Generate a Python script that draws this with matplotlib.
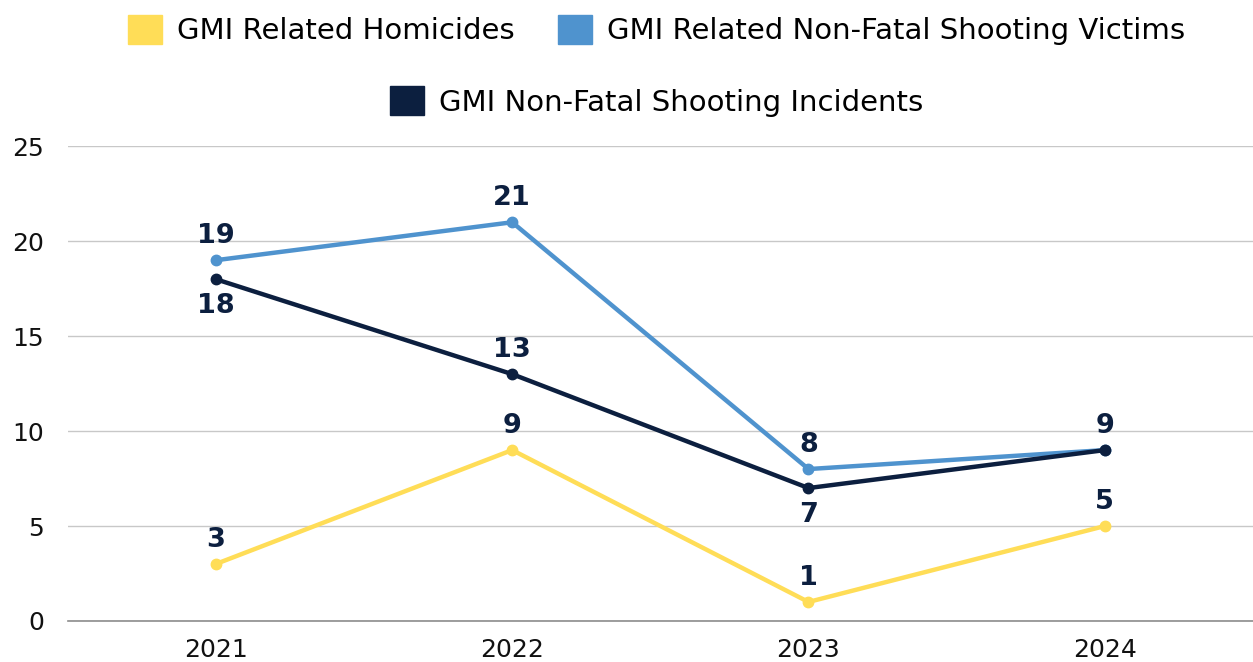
import matplotlib
matplotlib.use("Agg")
import matplotlib.pyplot as plt
from matplotlib.patches import Patch

plt.rcParams['font.family'] = ['DejaVu Sans']

years = ['2021', '2022', '2023', '2024']
homicides = [3, 9, 1, 5]
victims = [19, 21, 8, 9]
incidents = [18, 13, 7, 9]

yellow = '#FFDD57'
blue = '#4F93CE'
navy = '#0C1F3F'

fig = plt.figure(figsize=(12.53, 6.62), dpi=100)
ax = fig.add_axes([0.054, 0.062, 0.946, 0.717])

x = range(len(years))
ax.plot(x, homicides, color=yellow, lw=3.2, marker='o', ms=7.5, zorder=3)
ax.plot(x, victims, color=blue, lw=3.2, marker='o', ms=7.5, zorder=3)
ax.plot(x, incidents, color=navy, lw=3.2, marker='o', ms=7.5, zorder=4)

lab = dict(ha='center', color=navy, fontsize=19.5, fontweight='bold')
# labels above
for i, v in enumerate(homicides):
    ax.annotate(str(v), (i, v), xytext=(0, 8), textcoords='offset points', va='bottom', **lab)
for i, v in enumerate(victims):
    ax.annotate(str(v), (i, v), xytext=(0, 8), textcoords='offset points', va='bottom', **lab)
# navy labels: below at 2021 and 2023, above at 2022, shared at 2024
for i, v in enumerate(incidents):
    if i in (0, 2):
        ax.annotate(str(v), (i, v), xytext=(0, -10), textcoords='offset points', va='top', **lab)
    elif i == 1:
        ax.annotate(str(v), (i, v), xytext=(0, 8), textcoords='offset points', va='bottom', **lab)

ax.set_xlim(-0.5, 3.5)
ax.set_ylim(0, 25)
ax.set_yticks([0, 5, 10, 15, 20, 25])
ax.set_xticks(list(x))
ax.set_xticklabels(years)
ax.tick_params(length=0, labelsize=18, colors='#111111')
ax.tick_params(axis='y', pad=17)
ax.tick_params(axis='x', pad=12)
ax.grid(axis='y', color='#C8C8C8', lw=1)
ax.set_axisbelow(True)
for s in ['top', 'right', 'left']:
    ax.spines[s].set_visible(False)
ax.spines['bottom'].set_color('#8C8C8C')
ax.spines['bottom'].set_linewidth(1.2)

h1 = [Patch(color=yellow, label='GMI Related Homicides'),
      Patch(color=blue, label='GMI Related Non-Fatal Shooting Victims')]
h2 = [Patch(color=navy, label='GMI Non-Fatal Shooting Incidents')]
leg_kw = dict(frameon=False, fontsize=21, handlelength=1.16, handleheight=1.16,
              handletextpad=0.5, columnspacing=1.5)
fig.legend(handles=h1, loc='center', bbox_to_anchor=(0.524, 0.955), ncol=2, **leg_kw)
fig.legend(handles=h2, loc='center', bbox_to_anchor=(0.524, 0.847), ncol=1, **leg_kw)

fig.savefig('out.png', dpi=100)
